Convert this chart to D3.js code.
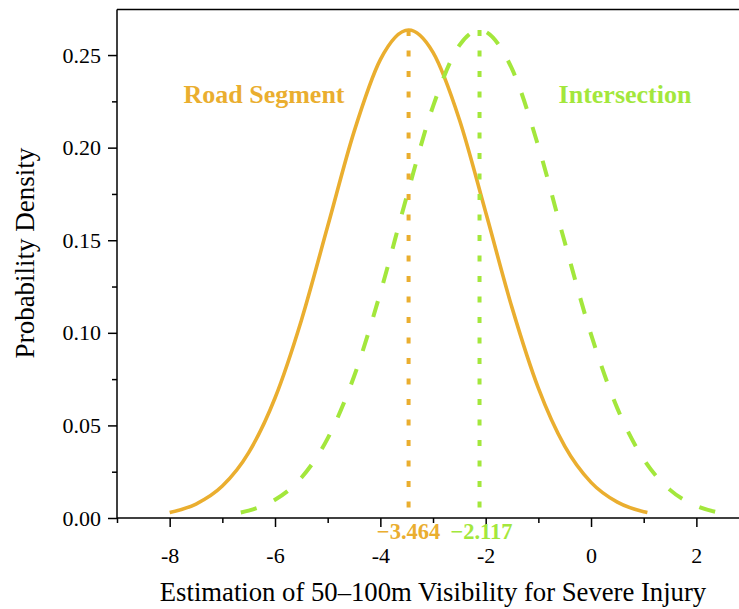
<!DOCTYPE html>
<html>
<head>
<meta charset="utf-8">
<script src="https://cdn.jsdelivr.net/npm/d3@7"></script>
<style>
  html, body { margin: 0; padding: 0; background: #fff; }
  svg { display: block; }
  text { font-family: "Liberation Serif", "Times New Roman", serif; }
</style>
</head>
<body>
<svg id="chart" width="739" height="609"></svg>
<script>
// ---- Data ----
const roadX = [-8.0, -7.5, -7.0, -6.5, -6.0, -5.5, -5.0, -4.5, -4.0, -3.464, -3.0, -2.5, -2.0, -1.5, -1.0, -0.5, 0.0, 0.5, 1.0, 1.07];
const roadY = [0.00297, 0.00755, 0.01724, 0.0353, 0.0648, 0.1067, 0.1575, 0.2085, 0.2475, 0.2635, 0.2514, 0.2152, 0.1651, 0.1136, 0.0701, 0.0388, 0.01924, 0.00856, 0.00342, 0.00298];

const interX = [-6.65, -6.5, -6.0, -5.5, -5.0, -4.5, -4.0, -3.5, -3.0, -2.5, -2.117, -1.5, -1.0, -0.5, 0.0, 0.5, 1.0, 1.5, 2.0, 2.42];
const interY = [0.00298, 0.00399, 0.00983, 0.0217, 0.0430, 0.0764, 0.1216, 0.1736, 0.2223, 0.2552, 0.2635, 0.2425, 0.2007, 0.1490, 0.0992, 0.0592, 0.0317, 0.01519, 0.00654, 0.00297];

const roadMean = -3.464, roadPeak = 0.2635;
const interMean = -2.117, interPeak = 0.2635;
const roadMeanLabel = "\u22123.464";
const interMeanLabel = "\u22122.117";
const seriesNames = ["Road Segment", "Intersection"];

const xMajorTicks = [-8, -6, -4, -2, 0, 2];
const xMinorTicks = [-9, -7, -5, -3, -1, 1];
const yMajorTicks = [0, 0.05, 0.10, 0.15, 0.20, 0.25];
const yMinorTicks = [0.025, 0.075, 0.125, 0.175, 0.225];

const xTitle = "Estimation of 50\u2013100m Visibility for Severe Injury";
const yTitle = "Probability Density";

// ---- Styles ----
const ORANGE = "#EAAE2F";
const GREEN = "#A3E73C";

(function () {
const svg = d3.select("#chart");
const pL = 117, pR = 117 + 12 * 52.67, pT = 9.5, pB = 518;

const x = d3.scaleLinear().domain([-9, 3]).range([pL, pR]);
const y = d3.scaleLinear().domain([0, 0.2746]).range([pB, pT]);

// frame top line
svg.append("line").attr("x1", pL).attr("x2", 739).attr("y1", pT).attr("y2", pT)
  .attr("stroke", "#000").attr("stroke-width", 1.5);

// X axis
const gx = svg.append("g").attr("transform", `translate(0,${pB})`);
gx.call(d3.axisBottom(x).tickValues(xMajorTicks).tickSize(9).tickPadding(20)
  .tickFormat(d => d3.format("d")(d).replace("\u2212", "-")));
gx.append("g").call(d3.axisBottom(x).tickValues(xMinorTicks).tickSize(5).tickFormat(""))
  .select(".domain").remove();
gx.selectAll(".domain").attr("d", `M${pL},0H739`);
gx.selectAll("path, line").attr("stroke", "#000").attr("stroke-width", 1.5);
gx.selectAll("text").attr("font-size", 22).attr("fill", "#000")
  .style("font-family", "'Liberation Serif', serif");

// Y axis
const gy = svg.append("g").attr("transform", `translate(${pL},0)`);
gy.call(d3.axisLeft(y).tickValues(yMajorTicks).tickSize(9).tickPadding(7)
  .tickFormat(d3.format(".2f")));
gy.append("g").call(d3.axisLeft(y).tickValues(yMinorTicks).tickSize(5).tickFormat(""))
  .select(".domain").remove();
gy.selectAll(".domain").attr("d", `M0,${pB}V${pT}`);
gy.selectAll("path, line").attr("stroke", "#000").attr("stroke-width", 1.5);
gy.selectAll("text").attr("font-size", 22).attr("fill", "#000")
  .style("font-family", "'Liberation Serif', serif");

// Curves
const line = d3.line().x(d => x(d[0])).y(d => y(d[1])).curve(d3.curveMonotoneX);
const roadData = roadX.map((v, i) => [v, roadY[i]]);
const interData = interX.map((v, i) => [v, interY[i]]);

svg.append("path").datum(roadData).attr("d", line)
  .attr("fill", "none").attr("stroke", ORANGE).attr("stroke-width", 3.6);
svg.append("path").datum(interData).attr("d", line)
  .attr("fill", "none").attr("stroke", GREEN).attr("stroke-width", 4)
  .attr("stroke-dasharray", "16.5,19");

// Mean dotted lines
svg.append("line").attr("x1", x(roadMean)).attr("x2", x(roadMean))
  .attr("y1", y(roadPeak)).attr("y2", pB)
  .attr("stroke", ORANGE).attr("stroke-width", 4).attr("stroke-dasharray", "6,14.5");
svg.append("line").attr("x1", x(interMean)).attr("x2", x(interMean))
  .attr("y1", y(interPeak)).attr("y2", pB)
  .attr("stroke", GREEN).attr("stroke-width", 4).attr("stroke-dasharray", "6,14.5");

// Mean labels
svg.append("text").attr("x", x(roadMean)).attr("y", 539).attr("text-anchor", "middle")
  .attr("font-size", 22.5).attr("font-weight", "bold").attr("fill", ORANGE).text(roadMeanLabel);
svg.append("text").attr("x", x(interMean) + 2).attr("y", 539).attr("text-anchor", "middle")
  .attr("font-size", 22.5).attr("font-weight", "bold").attr("fill", GREEN).text(interMeanLabel);

// Series labels
svg.append("text").attr("x", 264).attr("y", 103).attr("text-anchor", "middle")
  .attr("font-size", 26).attr("font-weight", "bold").attr("fill", ORANGE).text(seriesNames[0]);
svg.append("text").attr("x", 625).attr("y", 103).attr("text-anchor", "middle")
  .attr("font-size", 26).attr("font-weight", "bold").attr("fill", GREEN).text(seriesNames[1]);

// Axis titles
svg.append("text").attr("x", 433).attr("y", 601).attr("text-anchor", "middle")
  .attr("font-size", 26.7).attr("fill", "#000").text(xTitle);
svg.append("text").attr("transform", "translate(34,253) rotate(-90)").attr("text-anchor", "middle")
  .attr("font-size", 27).attr("fill", "#000").text(yTitle);
})();
</script>
</body>
</html>
